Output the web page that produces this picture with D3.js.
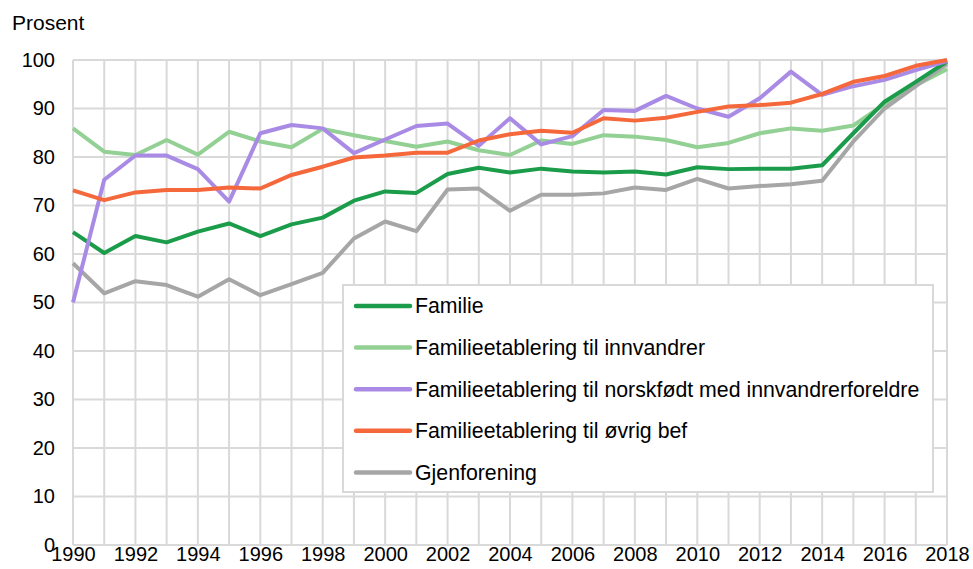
<!DOCTYPE html>
<html>
<head>
<meta charset="utf-8">
<script src="https://cdn.jsdelivr.net/npm/d3@7"></script>
<style>
  body { margin: 0; background: #fff; }
  text { font-family: "Liberation Sans", Arial, sans-serif; fill: #000; }
</style>
</head>
<body>
<svg id="chart"></svg>
<script>
// Data
const years = d3.range(1990, 2019);
const yTicks = [0, 10, 20, 30, 40, 50, 60, 70, 80, 90, 100];
const xTickYears = d3.range(1990, 2019, 2);

const familie = [64.5, 60.2, 63.7, 62.4, 64.6, 66.3, 63.7, 66.1, 67.5, 71.0,
  72.9, 72.6, 76.5, 77.8, 76.8, 77.6, 77.0, 76.8, 77.0, 76.4,
  77.9, 77.5, 77.6, 77.6, 78.3, 84.9, 91.4, 95.5, 99.7];
const innvandrer = [85.9, 81.1, 80.4, 83.5, 80.5, 85.2, 83.2, 82.0, 85.8, 84.5,
  83.3, 82.1, 83.2, 81.4, 80.4, 83.4, 82.7, 84.5, 84.2, 83.5,
  82.0, 82.9, 84.9, 85.9, 85.4, 86.5, 90.9, 94.8, 98.1];
const norskfodt = [50.0, 75.3, 80.3, 80.3, 77.5, 70.8, 84.9, 86.6, 85.9, 80.8,
  83.6, 86.4, 86.9, 82.3, 88.0, 82.6, 84.3, 89.7, 89.5, 92.6,
  90.0, 88.3, 92.1, 97.6, 92.8, 94.6, 95.9, 97.9, 99.8];
const ovrig = [73.1, 71.1, 72.7, 73.2, 73.2, 73.7, 73.5, 76.3, 78.0, 79.9,
  80.3, 80.9, 80.9, 83.4, 84.7, 85.4, 85.0, 88.0, 87.5, 88.1,
  89.3, 90.4, 90.7, 91.2, 93.0, 95.5, 96.7, 98.8, 100.0];
const gjenforening = [58.1, 51.9, 54.4, 53.6, 51.2, 54.8, 51.5, 53.8, 56.1, 63.2,
  66.7, 64.7, 73.3, 73.5, 68.9, 72.2, 72.2, 72.5, 73.7, 73.2,
  75.5, 73.5, 74.0, 74.4, 75.1, 83.2, 90.0, 94.6, 99.2];

const seriesNames = [
  'Familie',
  'Familieetablering til innvandrer',
  'Familieetablering til norskfødt med innvandrerforeldre',
  'Familieetablering til øvrig bef',
  'Gjenforening'
];
const seriesValues = [familie, innvandrer, norskfodt, ovrig, gjenforening];
const seriesColors = ['#1b9c4a', '#93d094', '#a98be6', '#f4683c', '#a6a6a6'];

// Draw order: lighter series first, as in the original
const drawOrder = [1, 4, 0, 2, 3];

const svgWidth = 973;
const svgHeight = 569;
const margin = { top: 60, right: 26, bottom: 24, left: 73 };

const svg = d3.select('#chart')
  .attr('width', svgWidth)
  .attr('height', svgHeight);

const x = d3.scaleLinear()
  .domain([1990, 2018])
  .range([margin.left, svgWidth - margin.right]);

const y = d3.scaleLinear()
  .domain([0, 100])
  .range([svgHeight - margin.bottom, margin.top]);

const gridColor = '#d9d9d9';

// Horizontal grid
svg.append('g')
  .selectAll('line')
  .data(yTicks)
  .join('line')
  .attr('x1', x(1990))
  .attr('x2', x(2018))
  .attr('y1', d => y(d))
  .attr('y2', d => y(d))
  .attr('stroke', gridColor)
  .attr('stroke-width', 2);

// Vertical grid (every year)
svg.append('g')
  .selectAll('line')
  .data(years)
  .join('line')
  .attr('x1', d => x(d))
  .attr('x2', d => x(d))
  .attr('y1', y(0))
  .attr('y2', y(100))
  .attr('stroke', gridColor)
  .attr('stroke-width', 2);

// Y axis labels
const yAxis = svg.append('g')
  .attr('transform', `translate(${margin.left - 18},0)`)
  .call(d3.axisLeft(y).tickValues(yTicks).tickSize(0).tickPadding(0));
yAxis.select('.domain').remove();
yAxis.selectAll('text')
  .style('font-family', '"Liberation Sans", Arial, sans-serif')
  .style('font-size', '20px')
  .attr('dy', '0.3em')
  .attr('fill', '#000');

// X axis labels
const xAxis = svg.append('g')
  .attr('transform', `translate(0,${y(0)})`)
  .call(d3.axisBottom(x).tickValues(xTickYears).tickFormat(d3.format('d')).tickSize(0).tickPadding(2));
xAxis.select('.domain').remove();
xAxis.selectAll('text')
  .style('font-family', '"Liberation Sans", Arial, sans-serif')
  .style('font-size', '20px')
  .attr('fill', '#000');

// Y axis title
svg.append('text')
  .attr('x', 12)
  .attr('y', 30)
  .style('font-size', '21px')
  .text('Prosent');

// Lines
const line = d3.line()
  .x((d, i) => x(years[i]))
  .y(d => y(d));

svg.append('g')
  .selectAll('path')
  .data(drawOrder)
  .join('path')
  .attr('d', i => line(seriesValues[i]))
  .attr('fill', 'none')
  .attr('stroke', i => seriesColors[i])
  .attr('stroke-width', 4)
  .attr('stroke-linejoin', 'round');

// Legend
const legend = svg.append('g');
legend.append('rect')
  .attr('x', 343)
  .attr('y', 285)
  .attr('width', 590)
  .attr('height', 207)
  .attr('fill', '#fff')
  .attr('stroke', gridColor)
  .attr('stroke-width', 2);

const items = legend.selectAll('g.item')
  .data(seriesNames)
  .join('g')
  .attr('class', 'item')
  .attr('transform', (d, i) => `translate(356,${306 + i * 41.6})`);

items.append('line')
  .attr('x1', 0)
  .attr('x2', 54)
  .attr('stroke', (d, i) => seriesColors[i])
  .attr('stroke-width', 4.5)
  .attr('stroke-linecap', 'round');

items.append('text')
  .attr('x', 59)
  .attr('dy', '0.35em')
  .style('font-size', '21.3px')
  .text(d => d);
</script>
</body>
</html>
